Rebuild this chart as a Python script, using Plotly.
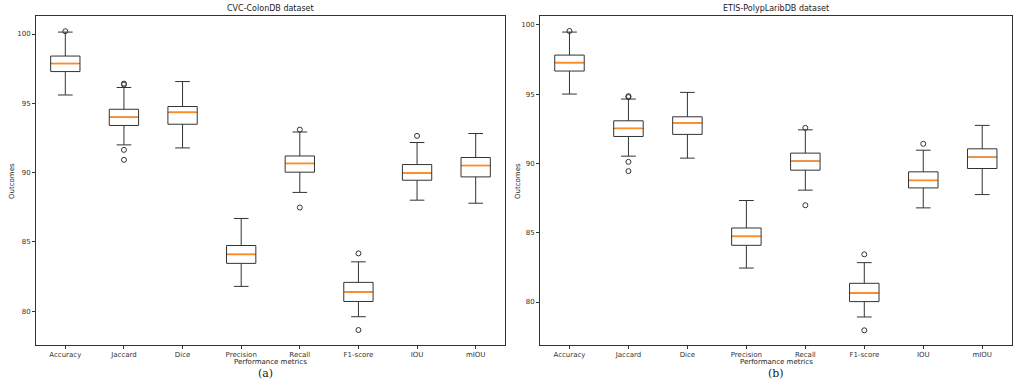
import plotly.graph_objects as go

categories = ["Accuracy", "Jaccard", "Dice", "Precision", "Recall", "F1-score", "IOU", "mIOU"]
positions = [1, 2, 3, 4, 5, 6, 7, 8]

# CVC-ColonDB dataset
cvc_lower = [95.60, 92.00, 91.78, 81.79, 88.57, 79.60, 88.01, 87.79]
cvc_q1 = [97.29, 93.40, 93.49, 83.45, 90.03, 80.70, 89.45, 89.69]
cvc_med = [97.87, 94.00, 94.35, 84.10, 90.66, 81.38, 89.98, 90.51]
cvc_q3 = [98.41, 94.57, 94.77, 84.74, 91.20, 82.08, 90.58, 91.09]
cvc_upper = [100.14, 96.14, 96.57, 86.69, 92.93, 83.56, 92.17, 92.82]
cvc_out_cat = [1, 2, 2, 2, 2, 5, 5, 6, 6, 7]
cvc_out_val = [100.20, 96.42, 96.35, 91.64, 90.92, 93.10, 87.48, 84.17, 78.64, 92.65]

# ETIS-PolypLaribDB dataset
etis_lower = [95.00, 90.52, 90.38, 82.45, 88.07, 78.92, 86.79, 87.75]
etis_q1 = [96.66, 91.94, 92.09, 84.09, 89.51, 80.03, 88.23, 89.63]
etis_med = [97.26, 92.52, 92.92, 84.74, 90.16, 80.65, 88.77, 90.45]
etis_q3 = [97.81, 93.07, 93.36, 85.34, 90.74, 81.35, 89.39, 91.05]
etis_upper = [99.47, 94.64, 95.12, 87.32, 92.42, 82.84, 90.95, 92.74]
etis_out_cat = [1, 2, 2, 2, 2, 5, 5, 6, 6, 7]
etis_out_val = [99.55, 94.85, 94.78, 90.11, 89.44, 92.56, 86.98, 83.44, 77.96, 91.41]

yticks = [80, 85, 90, 95, 100]

BOX_W = 0.5
FONT = "DejaVu Sans"
EDGE = "#333333"
MED = "#ff8c2a"

fig = go.Figure()

panels = [
    dict(lower=cvc_lower, q1=cvc_q1, med=cvc_med, q3=cvc_q3, upper=cvc_upper,
         oc=cvc_out_cat, ov=cvc_out_val, xa="x", ya="y"),
    dict(lower=etis_lower, q1=etis_q1, med=etis_med, q3=etis_q3, upper=etis_upper,
         oc=etis_out_cat, ov=etis_out_val, xa="x2", ya="y2"),
]

for p in panels:
    fig.add_trace(go.Box(
        x=positions, q1=p["q1"], median=p["med"], q3=p["q3"],
        lowerfence=p["lower"], upperfence=p["upper"],
        width=BOX_W, whiskerwidth=0.5, boxpoints=False,
        line=dict(color=EDGE, width=1), fillcolor="rgba(255,255,255,0)",
        xaxis=p["xa"], yaxis=p["ya"], showlegend=False, hoverinfo="skip",
    ))
    mx, my = [], []
    for pos, m in zip(positions, p["med"]):
        mx += [pos - BOX_W / 2 + 0.012, pos + BOX_W / 2 - 0.012, None]
        my += [m, m, None]
    fig.add_trace(go.Scatter(
        x=mx, y=my, mode="lines", line=dict(color=MED, width=1.8),
        xaxis=p["xa"], yaxis=p["ya"], showlegend=False, hoverinfo="skip",
    ))
    fig.add_trace(go.Scatter(
        x=p["oc"], y=p["ov"], mode="markers",
        marker=dict(symbol="circle-open", size=5, color=EDGE, line=dict(width=1)),
        xaxis=p["xa"], yaxis=p["ya"], showlegend=False, hoverinfo="skip",
    ))

W, H = 1019, 386
y_top = 1 - 16 / H
y_bot = 1 - 345 / H

axis_common = dict(showline=True, mirror=True, linecolor=EDGE, linewidth=1,
                   ticks="outside", ticklen=3, tickcolor=EDGE, showgrid=False,
                   zeroline=False, tickfont=dict(family=FONT, size=7, color="#333"))

fig.update_layout(
    width=W, height=H,
    margin=dict(l=0, r=0, t=0, b=0),
    paper_bgcolor="white", plot_bgcolor="white",
    font=dict(family=FONT, color="#333"),
    xaxis=dict(domain=[36 / W, 505 / W], range=[0.5, 8.5], tickvals=positions,
               ticktext=categories, anchor="y", **axis_common),
    yaxis=dict(domain=[y_bot, y_top], range=[77.56, 101.30], tickvals=yticks,
               anchor="x", **axis_common),
    xaxis2=dict(domain=[540 / W, 1011.7 / W], range=[0.5, 8.5], tickvals=positions,
                ticktext=categories, anchor="y2", **axis_common),
    yaxis2=dict(domain=[y_bot, y_top], range=[76.9, 100.63], tickvals=yticks,
                anchor="x2", **axis_common),
)

def ann(text, x, y, size=7.5, family=FONT, angle=0):
    fig.add_annotation(text=text, x=x / W, y=1 - y / H, xref="paper", yref="paper",
                       showarrow=False, textangle=angle,
                       font=dict(family=family, size=size, color="#222"),
                       xanchor="center", yanchor="middle")

ann("CVC-ColonDB dataset", 270, 8.5, size=8)
ann("ETIS-PolypLaribDB dataset", 776, 8.5, size=8)
ann("Performance metrics", 270, 362, size=7)
ann("Performance metrics", 776, 362, size=7)
ann("(a)", 265, 373, size=11, family="DejaVu Serif")
ann("(b)", 776, 373, size=11, family="DejaVu Serif")
ann("Outcomes", 12, 181, size=7, angle=-90)
ann("Outcomes", 518, 181, size=7, angle=-90)

fig.write_html("out.html", config={"displayModeBar": False},
               post_script="document.body.style.margin='0';document.body.style.overflow='hidden';")
